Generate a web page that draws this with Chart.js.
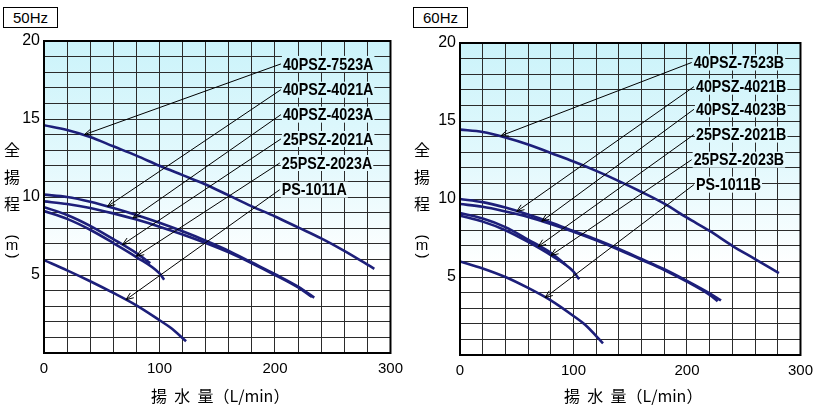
<!DOCTYPE html>
<html>
<head>
<meta charset="utf-8">
<script src="https://cdn.jsdelivr.net/npm/chart.js@4.4.1/dist/chart.umd.min.js"></script>
<style>
  body { margin: 0; background: #fff; }
  .wrap { position: relative; width: 820px; height: 410px; }
  .panel { position: absolute; top: 0; width: 410px; height: 410px; }
  .hz { position: absolute; top: 7px; width: 53px; height: 19px; border: 1px solid #000;
        font: 15px 'Liberation Sans', Arial, sans-serif; line-height: 19px; text-align: center;
        background: #fff; z-index: 2; }
</style>
</head>
<body>
<div class="wrap">
  <div class="panel" style="left:0"><canvas id="chart50" width="410" height="410"></canvas></div>
  <div class="panel" style="left:410px"><canvas id="chart60" width="410" height="410"></canvas></div>
  <div class="hz" style="left:3px">50Hz</div>
  <div class="hz" style="left:413px">60Hz</div>
</div>
<script>
// 50Hz curves (flow L/min, head m)
const flow7523A = [0, 20, 40, 60, 80, 100, 120, 140, 160, 180, 200, 220, 240, 260, 286];
const head7523A = [14.6, 14.3, 13.85, 13.25, 12.65, 12.0, 11.4, 10.8, 10.1, 9.4, 8.75, 8.05, 7.35, 6.55, 5.4];
const flow4021A = [0, 20, 40, 60, 80, 100, 120, 140, 160, 180, 200, 220, 234];
const head4021A = [10.15, 10.0, 9.7, 9.3, 8.85, 8.35, 7.8, 7.2, 6.55, 5.8, 5.05, 4.25, 3.55];
const flow4023A = [0, 20, 40, 60, 80, 100, 120, 140, 160, 180, 200, 220, 232];
const head4023A = [9.72, 9.55, 9.3, 8.95, 8.55, 8.1, 7.6, 7.05, 6.45, 5.75, 5.0, 4.2, 3.6];
const flow2021A = [0, 20, 40, 60, 80, 92];
const head2021A = [9.35, 8.85, 8.15, 7.3, 6.4, 5.75];
const flow2023A = [0, 20, 40, 60, 80, 100, 104];
const head2023A = [9.1, 8.6, 7.9, 7.05, 6.15, 5.1, 4.7];
const flow1011A = [0, 20, 40, 60, 80, 100, 110, 123];
const head1011A = [5.95, 5.3, 4.6, 3.85, 3.05, 2.1, 1.6, 0.75];

// 60Hz curves
const flow7523B = [0, 20, 40, 60, 80, 100, 120, 140, 160, 180, 200, 220, 240, 260, 281];
const head7523B = [14.45, 14.3, 13.95, 13.5, 12.95, 12.4, 11.8, 11.15, 10.45, 9.7, 8.8, 7.95, 7.0, 6.15, 5.25];
const flow4021B = [0, 20, 40, 60, 80, 100, 120, 140, 160, 180, 200, 220, 230];
const head4021B = [10.0, 9.8, 9.45, 9.0, 8.5, 7.95, 7.4, 6.8, 6.15, 5.5, 4.75, 3.95, 3.5];
const flow4023B = [0, 20, 40, 60, 80, 100, 120, 140, 160, 180, 200, 220, 227];
const head4023B = [9.68, 9.5, 9.2, 8.85, 8.4, 7.9, 7.35, 6.75, 6.1, 5.45, 4.7, 3.85, 3.45];
const flow2021B = [0, 20, 40, 60, 80, 93];
const head2021B = [9.1, 8.75, 8.2, 7.4, 6.55, 5.8];
const flow2023B = [0, 20, 40, 60, 80, 100, 105];
const head2023B = [8.93, 8.55, 8.0, 7.25, 6.4, 5.35, 4.85];
const flow1011B = [0, 20, 40, 60, 80, 100, 110, 126];
const head1011B = [6.0, 5.55, 5.0, 4.3, 3.5, 2.5, 1.95, 0.75];

// model labels and the curve points their leader lines point at
const names50 = ['40PSZ-7523A', '40PSZ-4021A', '40PSZ-4023A', '25PSZ-2021A', '25PSZ-2023A', 'PS-1011A'];
const labelFlow50 = [206, 206, 206, 206, 205, 205];
const labelHead50 = [18.53, 16.88, 15.28, 13.72, 12.18, 10.47];
const tipFlow50 = [35, 55, 77, 68, 80, 71];
const tipHead50 = [14.0, 9.4, 8.65, 6.95, 6.2, 3.42];

const names60 = ['40PSZ-7523B', '40PSZ-4021B', '40PSZ-4023B', '25PSZ-2021B', '25PSZ-2023B', 'PS-1011B'];
const labelFlow60 = [205, 207, 207, 207, 205, 207];
const labelHead60 = [18.75, 17.2, 15.75, 14.13, 12.52, 10.92];
const tipFlow60 = [36, 50, 72, 69, 80, 75];
const tipHead60 = [14.05, 9.2, 8.57, 6.96, 6.38, 3.68];

const xTicks = [0, 100, 200, 300];
const yTicks = [5, 10, 15, 20];
const xTitle = '揚  水  量（L/min）';
const yTitleChars = ['全', '揚', '程'];

const lineColor = '#1d1f7a';
const labelFont = "bold 17px 'Liberation Sans', Arial, sans-serif";
const labelSqueeze = 0.84;
const cjkFont = "16px 'Noto Sans CJK JP', sans-serif";

function pts(xs, ys) {
    return xs.map((x, i) => ({ x: x, y: ys[i] }));
}

function curve(xs, ys) {
    return {
        data: pts(xs, ys),
        borderColor: lineColor,
        borderWidth: 2.6,
        pointRadius: 0,
        fill: false,
        cubicInterpolationMode: 'monotone'
    };
}

const panelPlugin = {
    id: 'panel',
    beforeDraw(chart) {
        const { ctx, chartArea: a } = chart;
        const g = ctx.createLinearGradient(0, a.top, 0, a.bottom);
        g.addColorStop(0, '#cbf3fa');
        g.addColorStop(0.4, '#e4f9fd');
        g.addColorStop(0.72, '#ffffff');
        chart.$bg = g;
        ctx.save();
        ctx.fillStyle = g;
        ctx.fillRect(a.left, a.top, a.right - a.left, a.bottom - a.top);
        ctx.restore();
    },
    afterDatasetsDraw(chart, args, opts) {
        const { ctx } = chart;
        const xs = chart.scales.x, ys = chart.scales.y;
        ctx.save();
        ctx.font = labelFont;
        ctx.textBaseline = 'middle';
        ctx.textAlign = 'left';
        opts.names.forEach((name, i) => {
            const lx = xs.getPixelForValue(opts.labelFlow[i]);
            const ly = ys.getPixelForValue(opts.labelHead[i]);
            const tx = xs.getPixelForValue(opts.tipFlow[i]);
            const ty = ys.getPixelForValue(opts.tipHead[i]);
            // leader line
            ctx.strokeStyle = '#000';
            ctx.lineWidth = 1;
            ctx.beginPath();
            ctx.moveTo(lx - 1, ly);
            ctx.lineTo(tx, ty);
            const ang = Math.atan2(ly - ty, lx - tx);
            const len = 8;
            ctx.moveTo(tx + len * Math.cos(ang + 0.38), ty + len * Math.sin(ang + 0.38));
            ctx.lineTo(tx, ty);
            ctx.lineTo(tx + len * Math.cos(ang - 0.38), ty + len * Math.sin(ang - 0.38));
            ctx.stroke();
            // label
            const w = ctx.measureText(name).width * labelSqueeze;
            ctx.fillStyle = chart.$bg;
            ctx.fillRect(lx, ly - 8, w + 2, 16);
            ctx.fillStyle = '#000';
            ctx.save();
            ctx.translate(lx + 1, ly + 1);
            ctx.scale(labelSqueeze, 1);
            ctx.fillText(name, 0, 0);
            ctx.restore();
        });
        ctx.restore();
    },
    afterDraw(chart) {
        const { ctx, chartArea: a } = chart;
        ctx.save();
        ctx.strokeStyle = '#000';
        ctx.lineWidth = 2;
        ctx.strokeRect(a.left, a.top, a.right - a.left, a.bottom - a.top);

        ctx.fillStyle = '#000';
        ctx.textAlign = 'center';
        ctx.textBaseline = 'middle';
        // x title
        ctx.font = cjkFont;
        ctx.fillText(xTitle, (a.left + a.right) / 2 + 3, 396);
        // y title, stacked
        const cx = 12;
        const rows = [150, 177, 204];
        yTitleChars.forEach((c, i) => ctx.fillText(c, cx, rows[i]));
        ctx.font = "15px 'Liberation Sans', sans-serif";
        ctx.save();
        ctx.translate(cx, 237);
        ctx.rotate(Math.PI / 2);
        ctx.fillText('(', 0, 0);
        ctx.restore();
        ctx.fillText('m', cx, 246);
        ctx.save();
        ctx.translate(cx, 256);
        ctx.rotate(Math.PI / 2);
        ctx.fillText(')', 0, 0);
        ctx.restore();
        ctx.restore();
    }
};

function makeChart(id, datasets, notes, box) {
    const ctx = document.getElementById(id).getContext('2d');
    return new Chart(ctx, {
        type: 'line',
        data: { datasets: datasets },
        options: {
            responsive: false,
            animation: false,
            layout: { padding: { top: box.top, right: box.right, left: 0, bottom: 0 } },
            plugins: {
                legend: { display: false },
                tooltip: { enabled: false },
                panel: notes
            },
            scales: {
                x: {
                    type: 'linear',
                    min: 0,
                    max: 300,
                    afterFit: (s) => { s.height = 410 - box.bottom; },
                    grid: { color: '#2b2b2b', lineWidth: 1, drawTicks: false },
                    border: { display: false },
                    ticks: {
                        stepSize: 20,
                        autoSkip: false,
                        maxRotation: 0,
                        padding: 7,
                        color: '#000',
                        font: { family: "'Liberation Sans', Arial, sans-serif", size: 15 },
                        callback: (v) => xTicks.includes(v) ? String(v) : ''
                    }
                },
                y: {
                    min: 0,
                    max: 20,
                    afterFit: (s) => { s.width = box.left; },
                    grid: { color: '#2b2b2b', lineWidth: 1, drawTicks: false },
                    border: { display: false },
                    ticks: {
                        stepSize: 1,
                        autoSkip: false,
                        padding: 4,
                        color: '#000',
                        font: { family: "'Liberation Sans', Arial, sans-serif", size: 16 },
                        callback: (v) => yTicks.includes(v) ? String(v) : ''
                    }
                }
            }
        },
        plugins: [panelPlugin]
    });
}

makeChart('chart50', [
    curve(flow7523A, head7523A),
    curve(flow4021A, head4021A),
    curve(flow4023A, head4023A),
    curve(flow2021A, head2021A),
    curve(flow2023A, head2023A),
    curve(flow1011A, head1011A)
], {
    names: names50, labelFlow: labelFlow50, labelHead: labelHead50,
    tipFlow: tipFlow50, tipHead: tipHead50
}, { left: 44, top: 41, right: 19, bottom: 353 });

makeChart('chart60', [
    curve(flow7523B, head7523B),
    curve(flow4021B, head4021B),
    curve(flow4023B, head4023B),
    curve(flow2021B, head2021B),
    curve(flow2023B, head2023B),
    curve(flow1011B, head1011B)
], {
    names: names60, labelFlow: labelFlow60, labelHead: labelHead60,
    tipFlow: tipFlow60, tipHead: tipHead60
}, { left: 50, top: 43, right: 13, bottom: 355 });
</script>
</body>
</html>
